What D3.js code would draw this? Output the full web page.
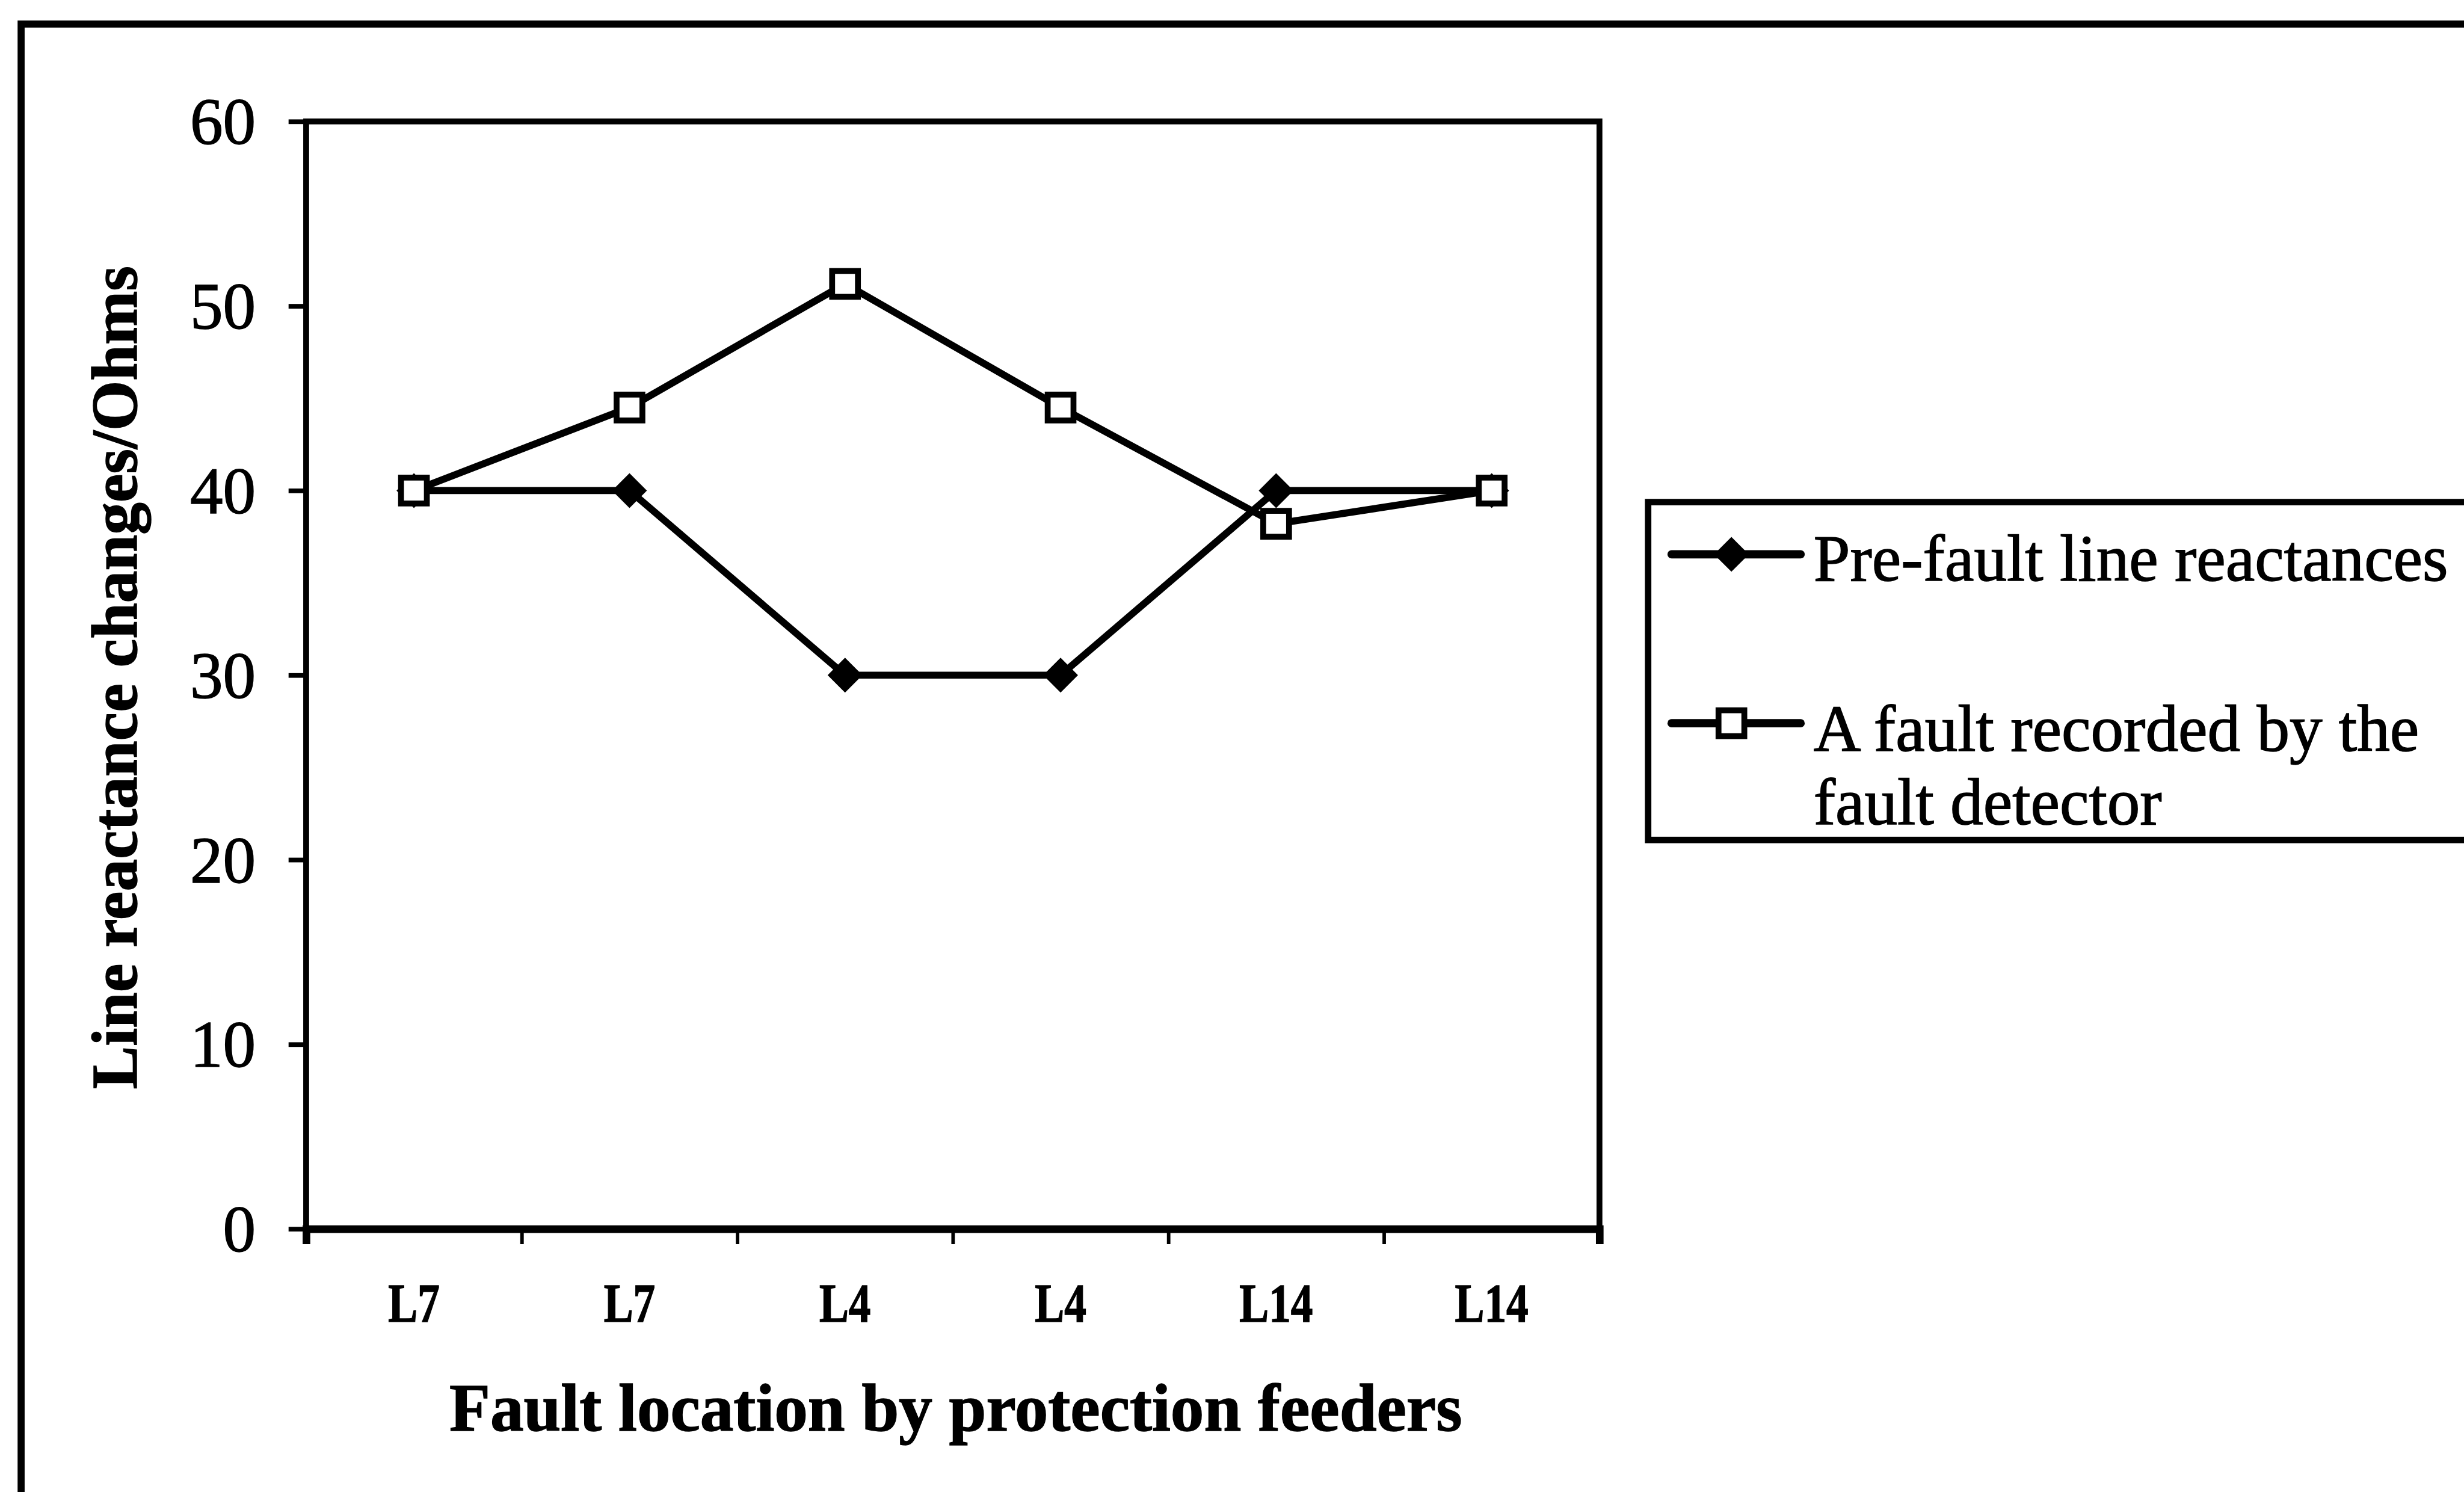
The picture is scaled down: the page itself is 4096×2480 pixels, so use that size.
<!DOCTYPE html>
<html>
<head>
<meta charset="utf-8">
<script src="https://cdn.jsdelivr.net/npm/d3@7"></script>
<style>
  body { margin: 0; background: #fff; overflow: hidden; }
  text { font-family: "Liberation Serif", "Times New Roman", serif; fill: #000; stroke: #000; stroke-width: 1.5px; }
</style>
</head>
<body>
<div id="chart"></div>
<script>
// values
var categories = ['L7', 'L7', 'L4', 'L4', 'L14', 'L14'];
var preFault = [40, 40, 30, 30, 40, 40];
var recorded = [40, 44.5, 51.2, 44.5, 38.2, 40];
var yTicks = [0, 10, 20, 30, 40, 50, 60];
var legendLines = [['Pre-fault line reactances'], ['A fault recorded by the', 'fault detector']];

var k = 0.975
  , plot = { left: 522, right: 2727, top: 207, bottom: 2095 }
  ;

var svg = d3.select('#chart').append('svg')
    .attr('width', 4096)
    .attr('height', 2480);

// drawn in reference pixels, then shrunk
var g = svg.append('g')
    .attr('transform', 'scale(' + k + ')');

// outer frame, cut off at right and bottom like the reference
g.append('rect')
    .attr('x', 36).attr('y', 41)
    .attr('width', 4600).attr('height', 2900)
    .attr('fill', 'none')
    .attr('stroke', '#000')
    .attr('stroke-width', 12);

var x = d3.scaleBand()
    .domain(d3.range(categories.length))
    .range([plot.left, plot.right]);

var xb = d3.scaleLinear()
    .domain([0, categories.length])
    .range([plot.left, plot.right]);

var y = d3.scaleLinear()
    .domain([0, 60])
    .range([plot.bottom, plot.top]);

// plot frame
g.append('rect')
    .attr('x', plot.left).attr('y', plot.top)
    .attr('width', plot.right - plot.left)
    .attr('height', plot.bottom - plot.top)
    .attr('fill', 'none')
    .attr('stroke', '#000')
    .attr('stroke-width', 10);

// y axis
var yAxis = g.append('g')
    .attr('transform', 'translate(' + plot.left + ',0)')
    .call(d3.axisLeft(y).tickValues(yTicks).tickSize(30).tickPadding(56));
yAxis.select('.domain').remove();
yAxis.selectAll('line').attr('stroke', '#000').attr('stroke-width', 8);
yAxis.selectAll('text')
    .style('font-size', '112px')
    .attr('dy', '0.34em');

// x axis: ticks on category boundaries
var xTickAxis = g.append('g')
    .attr('transform', 'translate(0,' + plot.bottom + ')')
    .call(d3.axisBottom(xb).tickValues(d3.range(categories.length + 1)).tickSize(26).tickFormat(''));
xTickAxis.select('.domain')
    .attr('stroke', '#000')
    .attr('stroke-width', 13);
xTickAxis.selectAll('line').attr('stroke', '#000').attr('stroke-width', 6);

var xLabelAxis = g.append('g')
    .attr('transform', 'translate(0,' + plot.bottom + ')')
    .call(d3.axisBottom(x).tickSize(0).tickFormat(i => categories[i]));
xLabelAxis.select('.domain').remove();
xLabelAxis.selectAll('text')
    .style('font-size', '94px')
    .style('font-weight', 'bold')
    .attr('y', 158)
    .attr('dy', 0)
    .attr('transform', 'scale(0.8,1)');

// axis titles
g.append('text')
    .attr('transform', 'translate(233,1155) rotate(-90)')
    .attr('text-anchor', 'middle')
    .style('font-size', '110px')
    .style('font-weight', 'bold')
    .text('Line reactance changes/Ohms');

g.append('text')
    .attr('x', (plot.left + plot.right) / 2 + 5)
    .attr('y', 2439)
    .attr('text-anchor', 'middle')
    .style('font-size', '114px')
    .style('font-weight', 'bold')
    .text('Fault location by protection feeders');

// series
var line = d3.line()
    .x((d, i) => x(i) + x.bandwidth() / 2)
    .y(d => y(d));

var diamond = d3.symbol().type(d3.symbolSquare).size(40 * 40);
var square = d3.symbol().type(d3.symbolSquare).size(44 * 44);

function drawSeries(values, isDiamond) {
  g.append('path')
      .datum(values)
      .attr('d', line)
      .attr('fill', 'none')
      .attr('stroke', '#000')
      .attr('stroke-width', 12);

  g.append('g').selectAll('path')
    .data(values)
    .enter().append('path')
      .attr('d', isDiamond ? diamond : square)
      .attr('transform', (d, i) => 'translate(' + (x(i) + x.bandwidth() / 2) + ',' + y(d) + ')' + (isDiamond ? ' rotate(45)' : ''))
      .attr('fill', isDiamond ? '#000' : '#fff')
      .attr('stroke', '#000')
      .attr('stroke-width', isDiamond ? 2 : 10);
}

drawSeries(preFault, true);
drawSeries(recorded, false);

// legend
var legend = g.append('g');

legend.append('rect')
    .attr('x', 2810).attr('y', 856)
    .attr('width', 2000).attr('height', 576)
    .attr('fill', '#fff')
    .attr('stroke', '#000')
    .attr('stroke-width', 11);

var rows = [
  { y: 945, base: 990, diamond: true },
  { y: 1233, base: 1280, diamond: false }
];

rows.forEach(function(r, j) {
  legend.append('line')
      .attr('x1', 2850).attr('x2', 3070)
      .attr('y1', r.y).attr('y2', r.y)
      .attr('stroke', '#000')
      .attr('stroke-width', 14)
      .attr('stroke-linecap', 'round');

  legend.append('path')
      .attr('d', r.diamond ? diamond : square)
      .attr('transform', 'translate(2952,' + r.y + ')' + (r.diamond ? ' rotate(45)' : ''))
      .attr('fill', r.diamond ? '#000' : '#fff')
      .attr('stroke', '#000')
      .attr('stroke-width', r.diamond ? 2 : 10);

  var t = legend.append('text')
      .attr('x', 3092)
      .attr('y', r.base)
      .style('font-size', '112px');

  t.selectAll('tspan')
    .data(legendLines[j])
    .enter().append('tspan')
      .attr('x', 3092)
      .attr('dy', (d, i) => i ? 125 : 0)
      .text(d => d);
});
</script>
</body>
</html>
